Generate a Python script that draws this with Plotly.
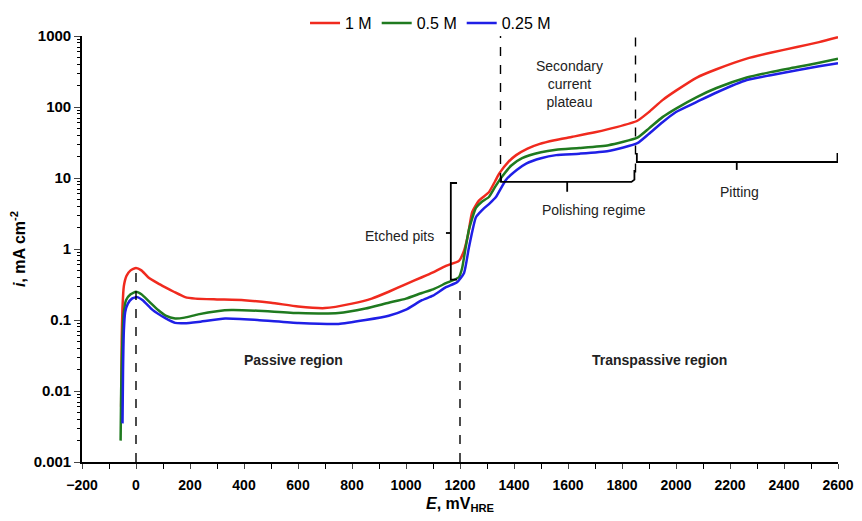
import plotly.graph_objects as go

# ---- data ----
E_1M = [-55, -53, -50, -45, -35, -20, 0, 20, 45, 80, 107, 140, 182, 220, 300, 400, 500, 600, 700, 800,
        873, 936, 1000, 1059, 1100, 1148, 1196, 1215, 1230, 1245, 1270, 1307, 1330, 1345, 1380, 1408,
        1450, 1493, 1550, 1616, 1700, 1780, 1857, 1900, 1950, 2000, 2077, 2150, 2262, 2350, 2448, 2530, 2600]
I_1M = [0.006, 0.05, 0.15, 0.3, 0.42, 0.5, 0.54, 0.5, 0.40, 0.33, 0.29, 0.25, 0.21, 0.2, 0.195, 0.19,
        0.175, 0.155, 0.147, 0.17, 0.2, 0.25, 0.32, 0.40, 0.47, 0.58, 0.68, 0.95, 1.6, 3.3, 4.8, 6.3,
        9.0, 11.5, 17, 21, 26, 30, 34, 38, 44, 52, 64, 85, 125, 170, 260, 340, 480, 580, 700, 820, 960]

E_05M = [-57, -55, -50, -45, -37, -20, 0, 20, 50, 82, 110, 145, 180, 230, 300, 353, 450, 602, 750, 850,
         936, 1000, 1059, 1100, 1148, 1196, 1208, 1220, 1233, 1259, 1280, 1307, 1330, 1356, 1390, 1430,
         1500, 1556, 1642, 1750, 1857, 1900, 1950, 2000, 2077, 2150, 2262, 2350, 2448, 2530, 2600]
I_05M = [0.002, 0.01, 0.06, 0.13, 0.19, 0.23, 0.25, 0.23, 0.18, 0.138, 0.115, 0.105, 0.108, 0.12, 0.133,
         0.138, 0.135, 0.125, 0.125, 0.145, 0.175, 0.2, 0.24, 0.27, 0.33, 0.40, 0.54, 1.0, 1.87, 3.8,
         4.6, 5.4, 7.5, 10.5, 15, 19, 23, 25, 26.5, 29, 37, 50, 72, 95, 138, 185, 260, 310, 365, 420, 480]

E_025M = [-50, -48, -45, -40, -30, -15, 4, 25, 60, 107, 145, 180, 230, 330, 450, 602, 750, 850, 936,
          1000, 1059, 1100, 1148, 1189, 1215, 1233, 1259, 1281, 1310, 1333, 1370, 1410, 1445, 1500,
          1556, 1642, 1750, 1857, 1900, 1950, 2000, 2077, 2150, 2262, 2350, 2448, 2530, 2600]
I_025M = [0.0035, 0.02, 0.07, 0.13, 0.17, 0.2, 0.21, 0.19, 0.14, 0.107, 0.091, 0.09, 0.094, 0.105, 0.1,
          0.091, 0.088, 0.1, 0.115, 0.14, 0.19, 0.22, 0.29, 0.34, 0.46, 1.05, 2.8, 3.5, 4.4, 5.4, 9.4,
          13, 16, 19, 21, 22, 24, 31, 42, 61, 85, 118, 160, 240, 280, 330, 375, 415]

series_names = ["1 M", "0.5 M", "0.25 M"]
series_colors = ["#f02a1e", "#1f7a1f", "#1f1fe6"]

x_ticks = list(range(-200, 2601, 200))
y_ticks = [0.001, 0.01, 0.1, 1, 10, 100, 1000]
y_ticklabels = ["0.001", "0.01", "0.1", "1", "10", "100", "1000"]

# region boundaries (mV) and their dashed-line extents (mA cm-2)
dash_E = [0, 1200, 1350, 1850]
dash_lo = [0.001, 0.001, 8.8, 12]
dash_hi = [0.52, 0.3, 1000, 1150]

FONT = "Liberation Sans, Arial, sans-serif"

fig = go.Figure()

for E, I, name, col in zip([E_1M, E_05M, E_025M], [I_1M, I_05M, I_025M], series_names, series_colors):
    fig.add_trace(go.Scatter(x=E, y=I, mode="lines", name=name,
                             line=dict(color=col, width=2.5, shape="spline", smoothing=0.5)))

# dashed vertical lines
for e, lo, hi in zip(dash_E, dash_lo, dash_hi):
    fig.add_trace(go.Scatter(x=[e, e], y=[lo, hi], mode="lines", showlegend=False, hoverinfo="skip",
                             line=dict(color="black", width=1.4, dash="dash"), cliponaxis=False))

# brackets
bk = dict(color="black", width=1.8)
# Etched pits (vertical bracket)
fig.add_trace(go.Scatter(x=[1189, 1166, 1166, 1189], y=[8.5, 8.5, 0.37, 0.37], mode="lines",
                         showlegend=False, hoverinfo="skip", line=bk))
fig.add_trace(go.Scatter(x=[1166, 1148], y=[1.68, 1.68], mode="lines",
                         showlegend=False, hoverinfo="skip", line=bk))
# Polishing regime
fig.add_trace(go.Scatter(x=[1352, 1352, 1835, 1846, 1846], y=[10.5, 8.8, 8.8, 9.5, 13], mode="lines",
                         showlegend=False, hoverinfo="skip", line=bk))
fig.add_trace(go.Scatter(x=[1597, 1597], y=[8.8, 6.4], mode="lines",
                         showlegend=False, hoverinfo="skip", line=bk))
# Pitting
fig.add_trace(go.Scatter(x=[1855, 1855, 2598, 2598], y=[22.5, 16.8, 16.8, 22.5], mode="lines",
                         showlegend=False, hoverinfo="skip", line=bk))
fig.add_trace(go.Scatter(x=[2225, 2225], y=[16.8, 13], mode="lines",
                         showlegend=False, hoverinfo="skip", line=bk))

ann = [
    dict(x=583, y=-1.56, text="<b>Passive region</b>"),
    dict(x=1940, y=-1.56, text="<b>Transpassive region</b>"),
    dict(x=1112, y=0.18, text="Etched pits", xanchor="right"),
    dict(x=1605, y=2.32, text="Secondary<br>current<br>plateau"),
    dict(x=1698, y=0.55, text="Polishing regime"),
    dict(x=2236, y=0.80, text="Pitting"),
]
for a in ann:
    fig.add_annotation(xref="x", yref="y", showarrow=False, yanchor="middle",
                       x=a["x"], y=a["y"], text=a["text"], xanchor=a.get("xanchor", "center"),
                       font=dict(family=FONT, color="#222", size=14))

fig.update_layout(
    width=862, height=521,
    margin=dict(l=74, r=32, t=28, b=67, autoexpand=False),
    paper_bgcolor="white", plot_bgcolor="white",
    font=dict(family=FONT, color="black"),
    showlegend=True,
    legend=dict(orientation="h", x=0.295, y=1.030, xanchor="left", yanchor="middle",
                font=dict(size=16, family=FONT), bgcolor="rgba(0,0,0,0)", tracegroupgap=0,
                itemwidth=30),
    xaxis=dict(range=[-200, 2600], tickvals=x_ticks, ticks="outside", ticklen=5, tickwidth=1.4,
               showline=True, linecolor="black", linewidth=1.6, showgrid=False, zeroline=False,
               tickfont=dict(size=14, family=FONT, weight="bold"), ticklabelstandoff=4,
               minor=dict(dtick=100, ticks="outside", ticklen=5, tickwidth=1.2, tickcolor="black", showgrid=False),
               title=dict(text="<b><i>E</i>, mV<sub>HRE</sub></b>", font=dict(size=16), standoff=6)),
    yaxis=dict(type="log", range=[-3, 3], tickvals=y_ticks, ticktext=y_ticklabels,
               ticks="outside", ticklen=6, tickwidth=1.4, showline=True, linecolor="black", linewidth=1.6,
               showgrid=False, zeroline=False, tickfont=dict(size=15, family=FONT, weight="bold"),
               minor=dict(dtick="D1", ticks="outside", ticklen=3, tickwidth=1, tickcolor="black", showgrid=False),
               title=dict(text="<b><i>i</i>, mA cm<sup>-2</sup></b>", font=dict(size=16), standoff=8)),
)

fig.write_html("out.html")
